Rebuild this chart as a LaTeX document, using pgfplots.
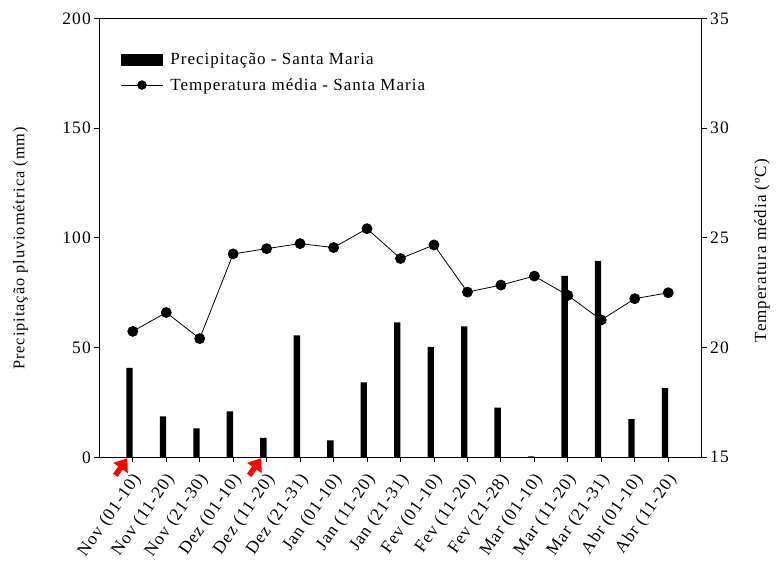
\documentclass[border=0pt]{standalone}
\usepackage{fontspec}
\setmainfont[LetterSpace=6]{Liberation Serif}
\usepackage{pgfplots}
\pgfplotsset{compat=1.18}
\usetikzlibrary{arrows.meta}

\begin{document}
\begin{tikzpicture}
\path[use as bounding box] (-99.3pt,-107.7pt) rectangle (678.7pt,457.3pt);
\begin{axis}[
  scale only axis, width=602.4pt, height=438.8pt,
  at={(0pt,0pt)}, anchor=south west,
  xmin=-1, xmax=17, ymin=0, ymax=200,
  xtick={0,...,16},
  xticklabels={Nov (01-10),Nov (11-20),Nov (21-30),Dez (01-10),Dez (11-20),Dez (21-31),Jan (01-10),Jan (11-20),Jan (21-31),Fev (01-10),Fev (11-20),Fev (21-28),Mar (01-10),Mar (11-20),Mar (21-31),Abr (01-10),Abr (11-20)},
  ytick={0,50,100,150,200},
  xtick pos=bottom, ytick pos=left,
  tick align=outside, major tick length=5pt,
  axis line style={line width=0.9pt}, every tick/.style={black, line width=0.9pt},
  /pgf/number format/assume math mode=true,
  tick label style={font=\fontsize{17.5}{20}\selectfont},
  xticklabel style={xshift=6pt, yshift=-12pt, rotate=55, anchor=east, inner sep=2pt},
  ylabel={Precipitação pluviométrica (mm)},
  ylabel style={font=\fontsize{16.3}{19}\selectfont, at={(axis description cs:-0.131,0.476)}, anchor=center},
  clip=false,
  legend style={at={(axis description cs:0.03,0.930)}, anchor=north west, draw=none, fill=none,
    font=\fontsize{17}{20}\selectfont, row sep=8pt},
  legend cell align=left,
]
\addplot[ybar, bar width=0.19, bar shift=0pt, fill=black, draw=none,
  legend image code/.code={\fill[black] (0pt,-6pt) rectangle (42pt,6pt);}]
 coordinates {
 (-0.097,40.8) (0.903,18.6) (1.903,13.2) (2.903,20.9) (3.903,8.8) (4.903,55.6)
 (5.903,7.7) (6.903,34.1) (7.903,61.5) (8.903,50.3) (9.903,59.7) (10.903,22.6)
 (11.903,0.4) (12.903,82.7) (13.903,89.5) (14.903,17.4) (15.903,31.5)
 };
\addlegendentry{\hspace{5pt}Precipitação - Santa Maria}
\addlegendimage{legend image code/.code={\draw[black, line width=0.8pt] (0pt,0pt) -- (42pt,0pt); \fill[black] (21pt,0pt) circle (4.5pt);}}
\addlegendentry{\hspace{5pt}Temperatura média - Santa Maria}
\draw[red, line width=5.5pt, -{Triangle[width=17pt,length=12pt]}] (axis cs:-0.52,-8.2) -- (axis cs:-0.16,-0.4);
\draw[red, line width=5.5pt, -{Triangle[width=17pt,length=12pt]}] (axis cs:3.48,-8.2) -- (axis cs:3.84,-0.4);
\end{axis}
\begin{axis}[
  scale only axis, width=602.4pt, height=438.8pt,
  at={(0pt,0pt)}, anchor=south west,
  xmin=-1, xmax=17, ymin=15, ymax=35,
  axis x line=none, axis y line*=right,
  ytick={15,20,25,30,35},
  tick align=outside, major tick length=5pt,
  axis line style={line width=0.9pt}, every tick/.style={black, line width=0.9pt},
  /pgf/number format/assume math mode=true,
  tick label style={font=\fontsize{17.5}{20}\selectfont},
  ylabel={Temperatura média (ºC)},
  ylabel style={font=\fontsize{17}{20}\selectfont, at={(axis description cs:1.100,0.471)}, anchor=center},
  clip=false,
]
\addplot[black, line width=0.8pt, mark=*, mark size=5pt] coordinates {
 (0,20.74) (1,21.6) (2,20.41) (3,24.27) (4,24.51) (5,24.74) (6,24.56) (7,25.42)
 (8,24.06) (9,24.68) (10,22.53) (11,22.85) (12,23.26) (13,22.38) (14,21.26)
 (15,22.23) (16,22.5)
};
\end{axis}
\end{tikzpicture}
\end{document}
